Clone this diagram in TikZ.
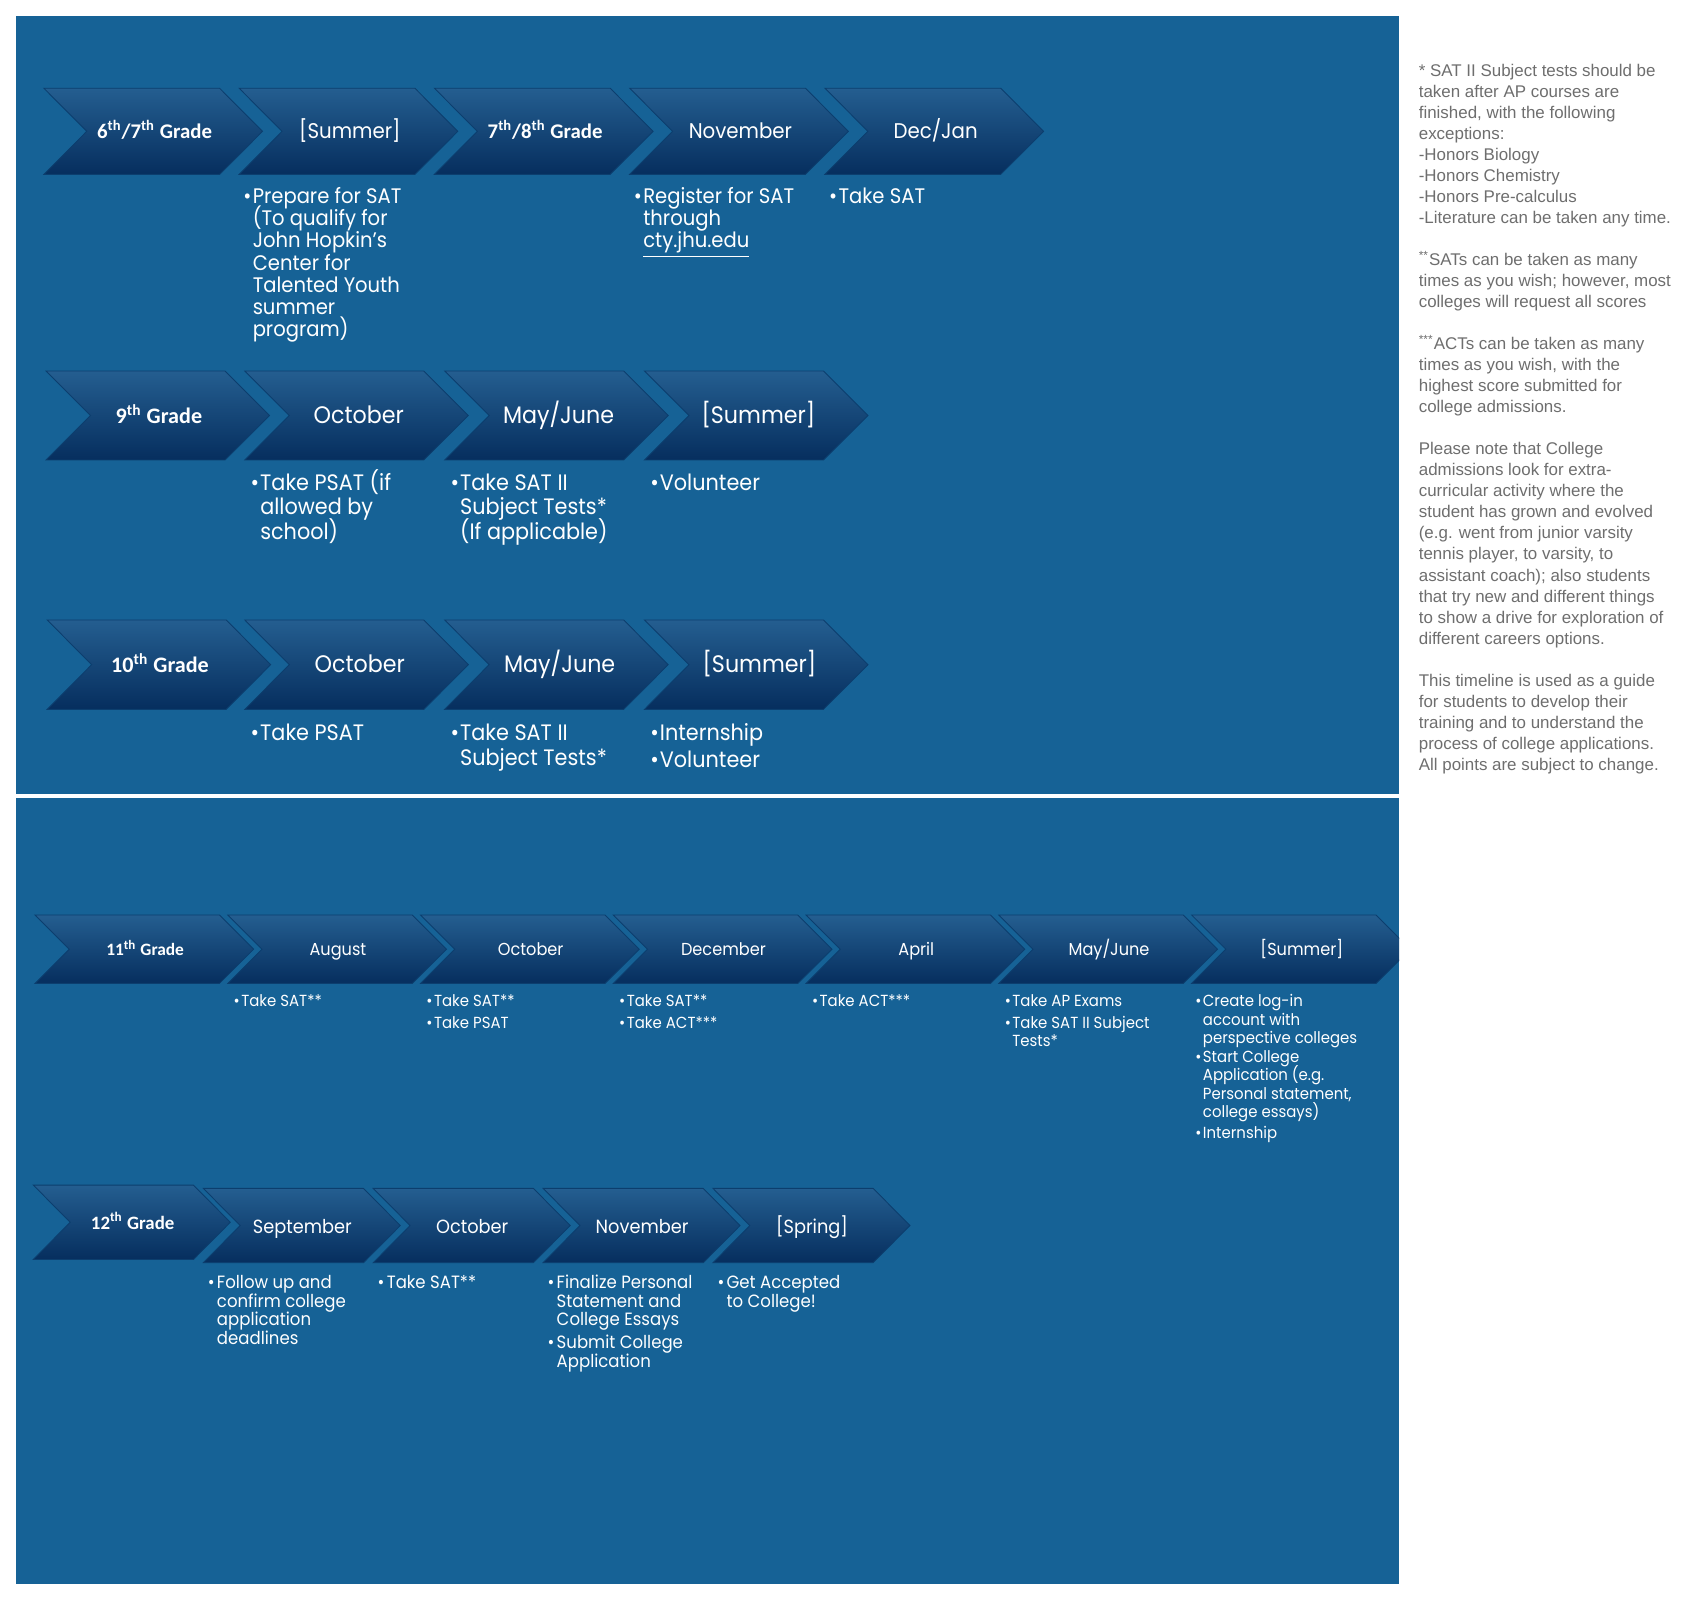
\documentclass[tikz,border=0pt]{standalone}
\usepackage{fontspec}
\setmainfont{Poppins}[FakeStretch=0.93]
\newfontfamily\gradefont{Carlito}
\newfontfamily\notefont{Liberation Sans}
\usetikzlibrary{calc}

\definecolor{panelblue}{RGB}{22,98,150}
\definecolor{chevtop}{RGB}{36,94,144}
\definecolor{chevbot}{RGB}{6,46,94}
\definecolor{chevedge}{RGB}{12,62,110}
\definecolor{notegray}{RGB}{110,110,110}

\newlength{\bgap}
% x0, ytop, top width, depth, height
\newcommand{\chevron}[5]{%
  \shade[chev] (#1,#2) -- ++(#3,0) -- ++(#4,#5/2) -- ++(-#4,#5/2) -- ++(-#3,0) -- ++(#4,-#5/2) -- cycle;}
\newcommand{\grade}[2]{{\gradefont\bfseries\fontsize{#1}{#1}\selectfont #2}}
\newcommand{\pt}[1]{\smash{\makebox[\bgap][l]{\textbullet}#1}}
\newcommand{\cn}[1]{\smash{\hspace*{\bgap}#1}}

\tikzset{
  chev/.style={top color=chevtop, bottom color=chevbot, draw=chevedge, line width=0.4pt},
  lab/.style={text=white, inner sep=0pt, anchor=base},
  bul/.style={text=white, inner sep=0pt, anchor=base west},
  fA/.style={font=\fontsize{9.7}{10.25}\selectfont\setlength{\bgap}{4.3pt}},
  fB/.style={font=\fontsize{10.3}{11.2}\selectfont\setlength{\bgap}{4.4pt}},
  fD/.style={font=\fontsize{7.4}{8.5}\selectfont\setlength{\bgap}{3.5pt}},
  fE/.style={font=\fontsize{8.2}{8.6}\selectfont\setlength{\bgap}{4.2pt}},
}

\begin{document}
\begin{tikzpicture}[x=0.5pt,y=-0.5pt]
\useasboundingbox (0,0) rectangle (1568,1476.8);
\fill[white] (0,0) rectangle (1568,1476.8);
\fill[panelblue] (14.7,14.7) rectangle (1289.7,732);
\fill[panelblue] (14.7,736) rectangle (1289.7,1460);

% 6th/7th grade
\foreach \i in {0,...,4} {
  \chevron{40.5+180*\i}{81.4}{162}{39.5}{79.3}
}
\foreach \txt [count=\i from 0] in {{\grade{9.6}{6\textsuperscript{th}/7\textsuperscript{th} Grade}}, {[Summer]}, {\grade{9.6}{7\textsuperscript{th}/8\textsuperscript{th} Grade}}, {November}, {Dec/Jan}}
  \node[lab, font=\fontsize{9.8}{10}\selectfont] (a\i) at (142.5+180*\i,127.5) {\txt};
\node[bul, fA] (a1b) at (224,187.4) {\begin{tabular}[t]{@{}l@{}}
  \pt{Prepare for SAT}\\ \cn{(To qualify for}\\ \cn{John Hopkin’s}\\ \cn{Center for}\\
  \cn{Talented Youth}\\ \cn{summer}\\ \cn{program)}\end{tabular}};
\node[bul, fA] (a3b) at (584,187.4) {\begin{tabular}[t]{@{}l@{}}
  \pt{Register for SAT}\\ \cn{through}\\ \cn{\underline{cty.jhu.edu}}\end{tabular}};
\node[bul, fA] (a4b) at (764,187.4) {\begin{tabular}[t]{@{}l@{}}
  \pt{Take SAT}\end{tabular}};

% 9th grade
\foreach \x in {42.5,225.7,409.9,594.1} {
  \chevron{\x}{342}{165}{41}{82}
}
\foreach \txt [count=\i from 0] in {{\grade{10.2}{9\textsuperscript{th} Grade}}, October, May/June, {[Summer]}}
  \node[lab, font=\fontsize{11}{11}\selectfont] (b\i) at (146.5+184.2*\i,390) {\txt};
\node[bul, fB] (b1b) at (230.7,452.3) {\begin{tabular}[t]{@{}l@{}}
  \pt{Take PSAT (if}\\ \cn{allowed by}\\ \cn{school)}\end{tabular}};
\node[bul, fB] (b2b) at (414.9,452.3) {\begin{tabular}[t]{@{}l@{}}
  \pt{Take SAT II}\\ \cn{Subject Tests*}\\ \cn{(If applicable)}\end{tabular}};
\node[bul, fB] (b3b) at (599.1,452.3) {\begin{tabular}[t]{@{}l@{}}
  \pt{Volunteer}\end{tabular}};

% 10th grade
\foreach \x in {43.5,225.7,409.9,594.1} {
  \chevron{\x}{571.5}{165}{41}{82.4}
}
\foreach \txt [count=\i from 0] in {{\grade{10.2}{10\textsuperscript{th} Grade}}, October, May/June, {[Summer]}}
  \node[lab, font=\fontsize{11}{11}\selectfont] (c\i) at (147.5+184.2*\i,620) {\txt};
\node[bul, fB] (c1b) at (230.7,682.8) {\begin{tabular}[t]{@{}l@{}}
  \pt{Take PSAT}\end{tabular}};
\node[bul, fB] (c2b) at (414.9,682.8) {\begin{tabular}[t]{@{}l@{}}
  \pt{Take SAT II}\\ \cn{Subject Tests*}\end{tabular}};
\node[bul, fB] (c3b) at (599.1,682.8) {\begin{tabular}[t]{@{}l@{}}
  \pt{Internship}\\[1.2pt] \pt{Volunteer}\end{tabular}};

\begin{scope}
\clip (14.7,736) rectangle (1289.7,1460);
% 11th grade
\foreach \i in {0,...,6} {
  \chevron{32.3+177.7*\i}{843.5}{170}{31.5}{63}
}
\end{scope}
\foreach \txt [count=\i from 0] in {{\grade{8}{11\textsuperscript{th} Grade}}, August, October, December, April, May/June, {[Summer]}}
  \node[lab, font=\fontsize{8}{8}\selectfont] (d\i) at (133.8+177.7*\i,881) {\txt};
\node[bul, fD] (d1b) at (215,928) {\begin{tabular}[t]{@{}l@{}}
  \pt{Take SAT**}\end{tabular}};
\node[bul, fD] (d2b) at (392.7,928) {\begin{tabular}[t]{@{}l@{}}
  \pt{Take SAT**}\\[1.4pt] \pt{Take PSAT}\end{tabular}};
\node[bul, fD] (d3b) at (570.4,928) {\begin{tabular}[t]{@{}l@{}}
  \pt{Take SAT**}\\[1.4pt] \pt{Take ACT***}\end{tabular}};
\node[bul, fD] (d4b) at (748.1,928) {\begin{tabular}[t]{@{}l@{}}
  \pt{Take ACT***}\end{tabular}};
\node[bul, fD] (d5b) at (925.8,928) {\begin{tabular}[t]{@{}l@{}}
  \pt{Take AP Exams}\\[1.4pt] \pt{Take SAT II Subject}\\ \cn{Tests*}\end{tabular}};
\node[bul, fD] (d6b) at (1101.5,928) {\begin{tabular}[t]{@{}l@{}}
  \pt{Create log-in}\\ \cn{account with}\\ \cn{perspective colleges}\\[0.2pt]
  \pt{Start College}\\ \cn{Application (e.g.}\\ \cn{Personal statement,}\\ \cn{college essays)}\\[1.2pt]
  \pt{Internship}\end{tabular}};

% 12th grade
\chevron{30.7}{1092.4}{147.6}{34}{68.6}
\foreach \x in {187.4,344,500.6,657.2} {
  \chevron{\x}{1095.4}{147.6}{34}{68.6}
}
\node[lab] (e0) at (122.3,1133.2) {\grade{8.7}{12\textsuperscript{th} Grade}};
\foreach \txt [count=\i from 0] in {September, October, November, {[Spring]}}
  \node[lab, font=\fontsize{8.8}{8.8}\selectfont] (e\i) at (278.7+156.6*\i,1137) {\txt};
\node[bul, fE] (e1b) at (191.2,1187.6) {\begin{tabular}[t]{@{}l@{}}
  \pt{Follow up and}\\ \cn{confirm college}\\ \cn{application}\\ \cn{deadlines}\end{tabular}};
\node[bul, fE] (e2b) at (347.8,1187.6) {\begin{tabular}[t]{@{}l@{}}
  \pt{Take SAT**}\end{tabular}};
\node[bul, fE] (e3b) at (504.4,1187.6) {\begin{tabular}[t]{@{}l@{}}
  \pt{Finalize Personal}\\ \cn{Statement and}\\ \cn{College Essays}\\[1.9pt]
  \pt{Submit College}\\ \cn{Application}\end{tabular}};
\node[bul, fE] (e4b) at (661,1187.6) {\begin{tabular}[t]{@{}l@{}}
  \pt{Get Accepted}\\ \cn{to College!}\end{tabular}};

% notes
\node[anchor=base west, inner sep=0pt, text=notegray, font=\notefont\fontsize{7.8}{9.685}\selectfont] (notes) at (1307.5,70.7) {\begin{tabular}[t]{@{}l@{}}
* SAT II Subject tests should be\\
taken after AP courses are\\
finished, with the following\\
exceptions:\\
-Honors Biology\\
-Honors Chemistry\\
-Honors Pre-calculus\\
-Literature can be taken any time.\\
\\
\textsuperscript{**}SATs can be taken as many\\
times as you wish; however, most\\
colleges will request all scores\\
\\
\textsuperscript{***}ACTs can be taken as many\\
times as you wish, with the\\
highest score submitted for\\
college admissions.\\
\\
Please note that College\\
admissions look for extra-\\
curricular activity where the\\
student has grown and evolved\\
(e.g. went from junior varsity\\
tennis player, to varsity, to\\
assistant coach); also students\\
that try new and different things\\
to show a drive for exploration of\\
different careers options.\\
\\
This timeline is used as a guide\\
for students to develop their\\
training and to understand the\\
process of college applications.\\
All points are subject to change.
\end{tabular}};
\end{tikzpicture}
\end{document}
